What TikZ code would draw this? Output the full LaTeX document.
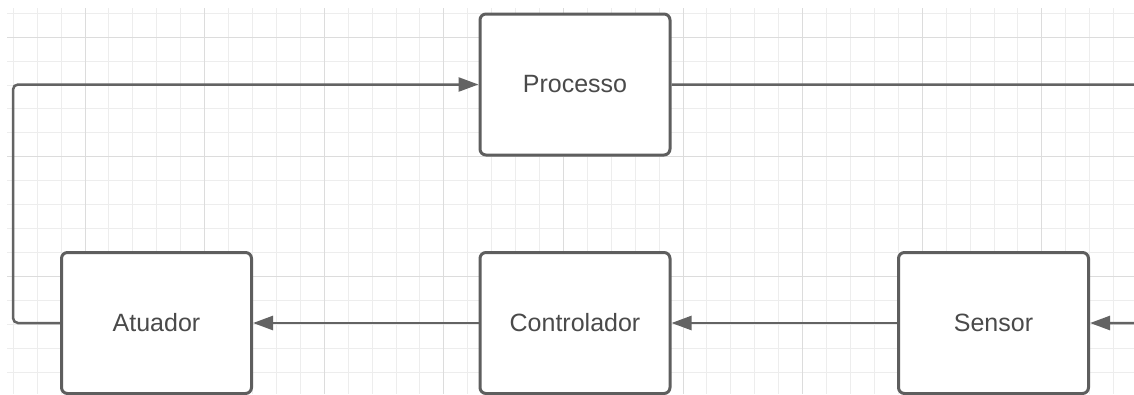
\documentclass[tikz,border=0pt]{standalone}
\usepackage{fontspec}
\setmainfont{Liberation Sans}
\usetikzlibrary{arrows.meta}
\definecolor{gridminor}{HTML}{EDEDED}
\definecolor{gridmajor}{HTML}{DCDCDC}
\definecolor{boxline}{HTML}{5E5E5E}
\definecolor{connline}{HTML}{636363}
\definecolor{labeltext}{HTML}{4A4A4A}
\tikzset{
  block/.style={draw=boxline, line width=3pt, fill=white, rounded corners=6pt,
    minimum width=190pt, minimum height=141pt, inner sep=0pt,
    font=\fontsize{25}{30}\selectfont, text=labeltext},
  conn/.style={draw=connline, line width=2.5pt, rounded corners=5pt,
    -{Triangle[length=20pt,width=14pt]}},
  minorline/.style={draw=gridminor, line width=1pt},
  majorline/.style={draw=gridmajor, line width=1pt}
}
\begin{document}
\begin{tikzpicture}[x=1pt,y=-1pt]
  \useasboundingbox (0,0) rectangle (1134,394);
  \clip (0,0) rectangle (1134,394);
  \fill[white] (0,0) rectangle (1134,394);
  % background grid
  \foreach \k in {0,...,46}
    \draw[minorline] ({13.3+\k*23.92},8) -- ({13.3+\k*23.92},394);
  \foreach \k in {0,...,15}
    \draw[minorline] (7,{13.3+\k*23.92}) -- (1134,{13.3+\k*23.92});
  \foreach \k in {3,8,...,43}
    \draw[majorline] ({13.3+\k*23.92},8) -- ({13.3+\k*23.92},394);
  \foreach \k in {1,6,11}
    \draw[majorline] (7,{13.3+\k*23.92}) -- (1134,{13.3+\k*23.92});
  % blocks
  \node[block] (proc) at (575,84.5) {Processo};
  \node[block] (act)  at (156.5,323) {Atuador};
  \node[block] (ctl)  at (575,323) {Controlador};
  \node[block] (sen)  at (993.5,323) {Sensor};
  % feedback loop
  \draw[conn] (act.west) -- ++(-47,0) |- (proc.west);
  \draw[conn] (proc.east) -- ++(468,0) |- (sen.east);
  \draw[conn] (sen.west) -- (ctl.east);
  \draw[conn] (ctl.west) -- (act.east);
\end{tikzpicture}
\end{document}
